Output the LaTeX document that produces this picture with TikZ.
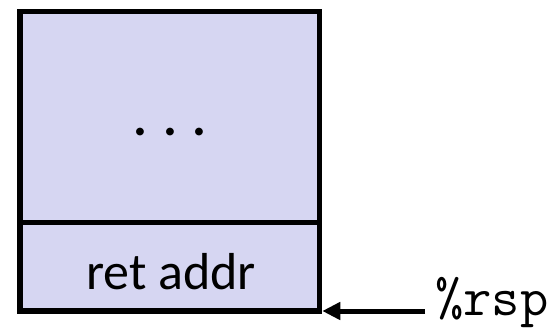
\documentclass[tikz,border=0pt]{standalone}
\usepackage{fontspec}
\setmainfont{Carlito}
\usetikzlibrary{arrows.meta}
\definecolor{cellfill}{RGB}{214,214,242}
\begin{document}
\begin{tikzpicture}[x=1bp,y=-1bp,
  cell/.style={draw=black, fill=cellfill, line width=5.5bp, inner sep=0pt, minimum width=299.5bp},
  celltext/.style={inner sep=0pt, font=\fontsize{52bp}{58bp}\selectfont},
  dotstext/.style={inner sep=0pt, font=\bfseries\fontsize{52bp}{58bp}\selectfont},
  codetext/.style={inner sep=0pt, font=\ttfamily\fontsize{55bp}{60bp}\selectfont},
  pointer/.style={line width=5bp, -{Triangle[length=18bp,width=17bp]}}]
\useasboundingbox (0,0) rectangle (560,331);
\node[cell, minimum height=211bp] (top) at (169.75,117.2) {};
\node[cell, minimum height=88.3bp] (ret) at (169.75,266.85) {};
\node[dotstext, anchor=base] (dots) at (170,135) {. . .};
\node[celltext, anchor=base] (retaddr) at (171,289) {ret addr};
\node[codetext, anchor=base west] (rsp) at (435,315) {\%rsp};
\coordinate (rsptail) at (425,311);
\draw[pointer] (rsptail) -- (ret.south east |- rsptail);
\end{tikzpicture}
\end{document}
